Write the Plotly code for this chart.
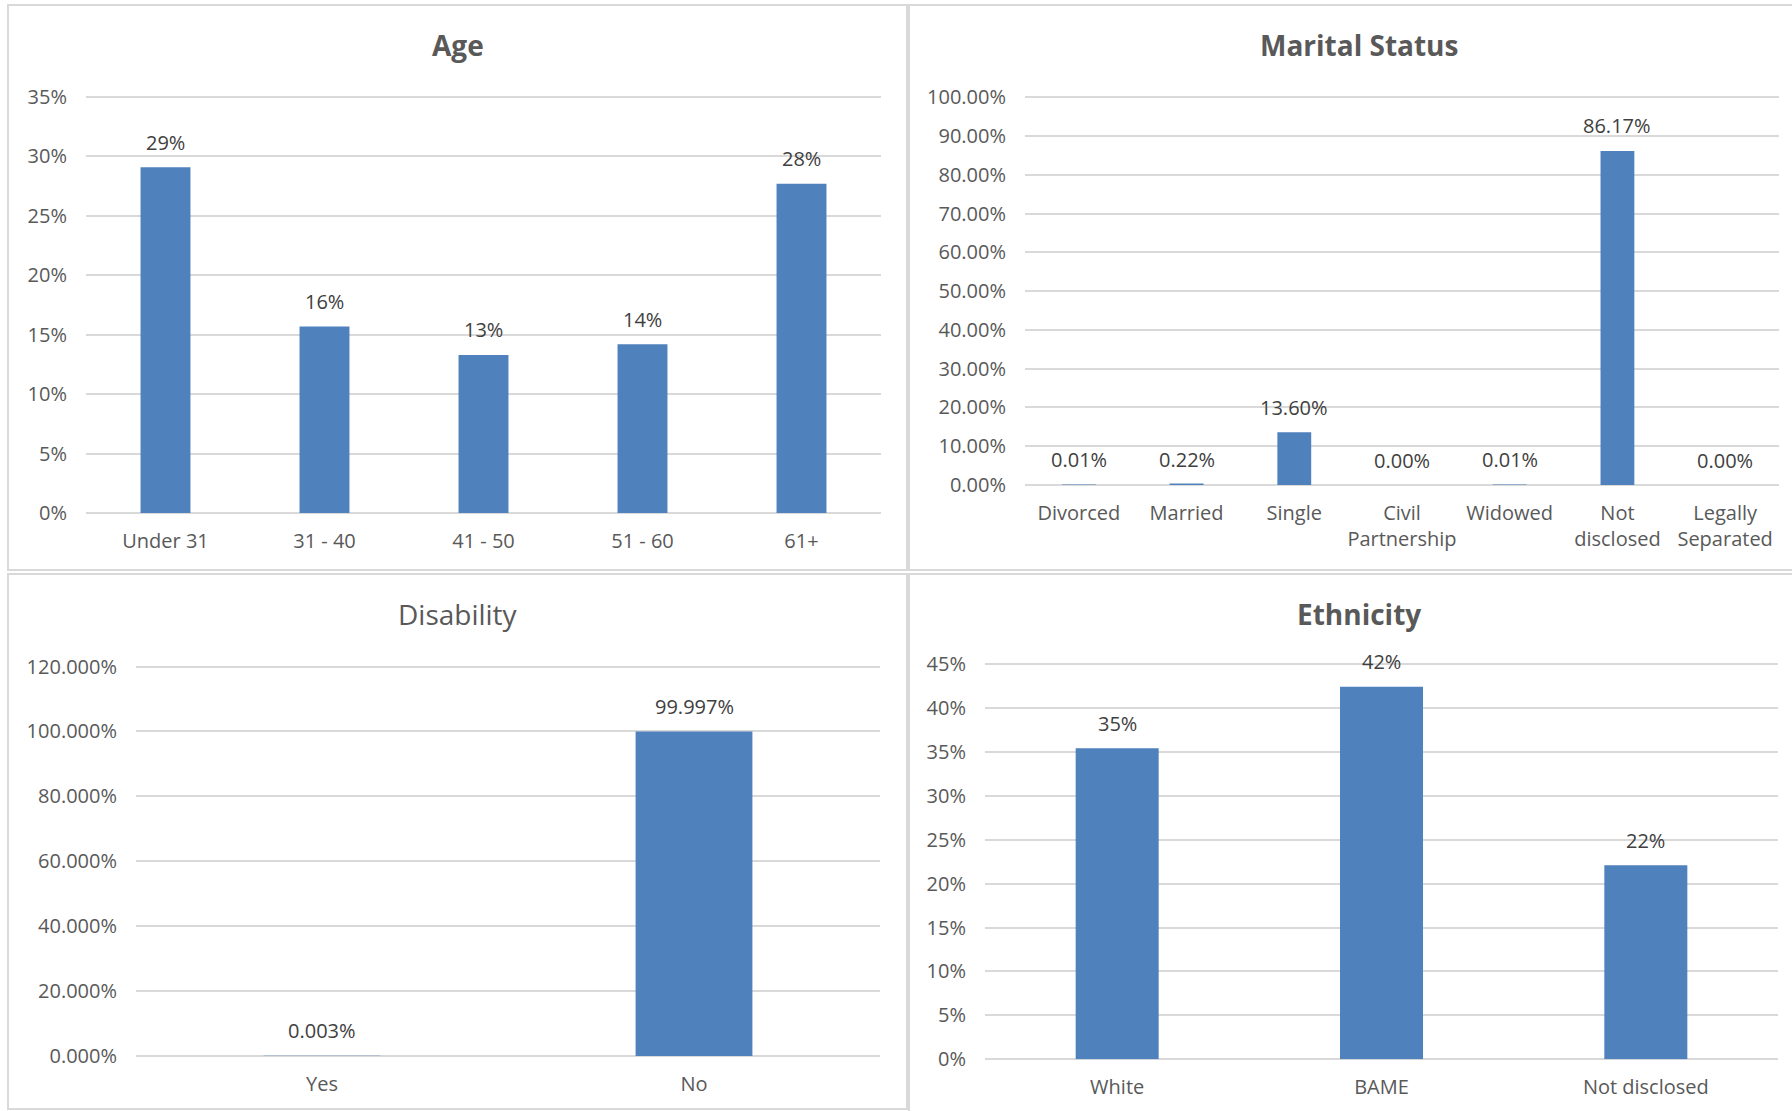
import plotly.graph_objects as go

W, H = 1792, 1111

# ---------------- data ----------------
age_categories = ["Under 31", "31 - 40", "41 - 50", "51 - 60", "61+"]
age_values = [0.291, 0.157, 0.133, 0.142, 0.277]

marital_categories = ["Divorced", "Married", "Single", "Civil<br>Partnership",
                      "Widowed", "Not<br>disclosed", "Legally<br>Separated"]
marital_values = [0.0001, 0.0022, 0.1360, 0.0000, 0.0001, 0.8617, 0.0000]

disability_categories = ["Yes", "No"]
disability_values = [0.00003, 0.99997]

ethnicity_categories = ["White", "BAME", "Not disclosed"]
ethnicity_values = [0.354, 0.424, 0.221]

BAR = "#4f81bd"
GRID = "#d9d9d9"
TICK = "#595959"
LABEL = "#404040"
FONT = "Open Sans"
FS = 20
HEADROOM = 1.01  # keeps the top gridline just inside the plot area


def px_x(p):
    return p / W


def px_y(p):
    return 1 - p / H


panels = [
    # title, cats, vals, label fmt, tick fmt, dtick, ymax, plot px box (x0,x1,ytop,ybottom), bold, title center px
    ("Age", age_categories, age_values, ".0%", ".0%", 0.05, 0.35, (86, 881, 97, 513), True, (458, 45)),
    ("Marital Status", marital_categories, marital_values, ".2%", ".2%", 0.10, 1.00, (1025, 1779, 97.3, 485), True, (1359, 45)),
    ("Disability", disability_categories, disability_values, ".3%", ".3%", 0.20, 1.20, (136, 880, 666.6, 1056), False, (458, 614)),
    ("Ethnicity", ethnicity_categories, ethnicity_values, ".0%", ".0%", 0.05, 0.45, (985, 1778, 664, 1059.3), True, (1359, 614)),
]

fig = go.Figure()
layout = dict(
    width=W, height=H,
    margin=dict(l=0, r=0, t=0, b=0, pad=0),
    paper_bgcolor="white", plot_bgcolor="white",
    showlegend=False,
    font=dict(family=FONT, color=TICK, size=FS),
    bargap=0.686,
)
annotations = []

for i, (title, cats, vals, fmt, tfmt, dtick, ymax, box, bold, tpos) in enumerate(panels):
    n = "" if i == 0 else str(i + 1)
    xa, ya = "x" + n, "y" + n
    fig.add_trace(go.Bar(x=cats, y=vals, marker=dict(color=BAR, line=dict(width=0)),
                         xaxis=xa, yaxis=ya, hoverinfo="skip"))
    x0, x1, yt, yb = box
    ytop = yb - (yb - yt) * HEADROOM
    layout["xaxis" + n] = dict(
        domain=[px_x(x0), px_x(x1)], anchor=ya, type="category", automargin=False,
        range=[-0.5, len(cats) - 0.5], showgrid=False, showline=False, zeroline=False,
        ticks="", ticklabelstandoff=14,
        tickfont=dict(family=FONT, size=FS, color=TICK),
    )
    layout["yaxis" + n] = dict(
        domain=[px_y(yb), px_y(ytop)], anchor=xa, range=[0, ymax * HEADROOM], dtick=dtick,
        tick0=0, tickformat=tfmt, showgrid=True, gridcolor=GRID, gridwidth=2,
        zeroline=True, zerolinecolor=GRID, zerolinewidth=2, showline=False,
        ticks="", ticklabelstandoff=18, automargin=False,
        tickfont=dict(family=FONT, size=FS, color=TICK),
    )
    for c, v in zip(cats, vals):
        annotations.append(dict(
            x=c, y=v, xref=xa, yref=ya, text=format(v, fmt), showarrow=False,
            yanchor="middle", yshift=25, font=dict(family=FONT, size=FS, color=LABEL),
        ))
    annotations.append(dict(
        x=px_x(tpos[0]), y=px_y(tpos[1]), xref="paper", yref="paper",
        text=("<b>%s</b>" % title) if bold else title, showarrow=False,
        xanchor="center", yanchor="middle",
        font=dict(family=FONT, size=28, color=TICK),
    ))

shapes = []
for (bx0, bx1, by0, by1) in [(8, 907, 5, 570), (909, 1800, 5, 570),
                             (8, 907, 574, 1109), (909, 1800, 574, 1120)]:
    shapes.append(dict(type="rect", xref="paper", yref="paper",
                       x0=px_x(bx0), x1=px_x(bx1), y0=px_y(by1), y1=px_y(by0),
                       line=dict(color=GRID, width=2), fillcolor="rgba(0,0,0,0)",
                       layer="below"))

layout["annotations"] = annotations
layout["shapes"] = shapes
fig.update_layout(**layout)
fig.write_html("out.html")
